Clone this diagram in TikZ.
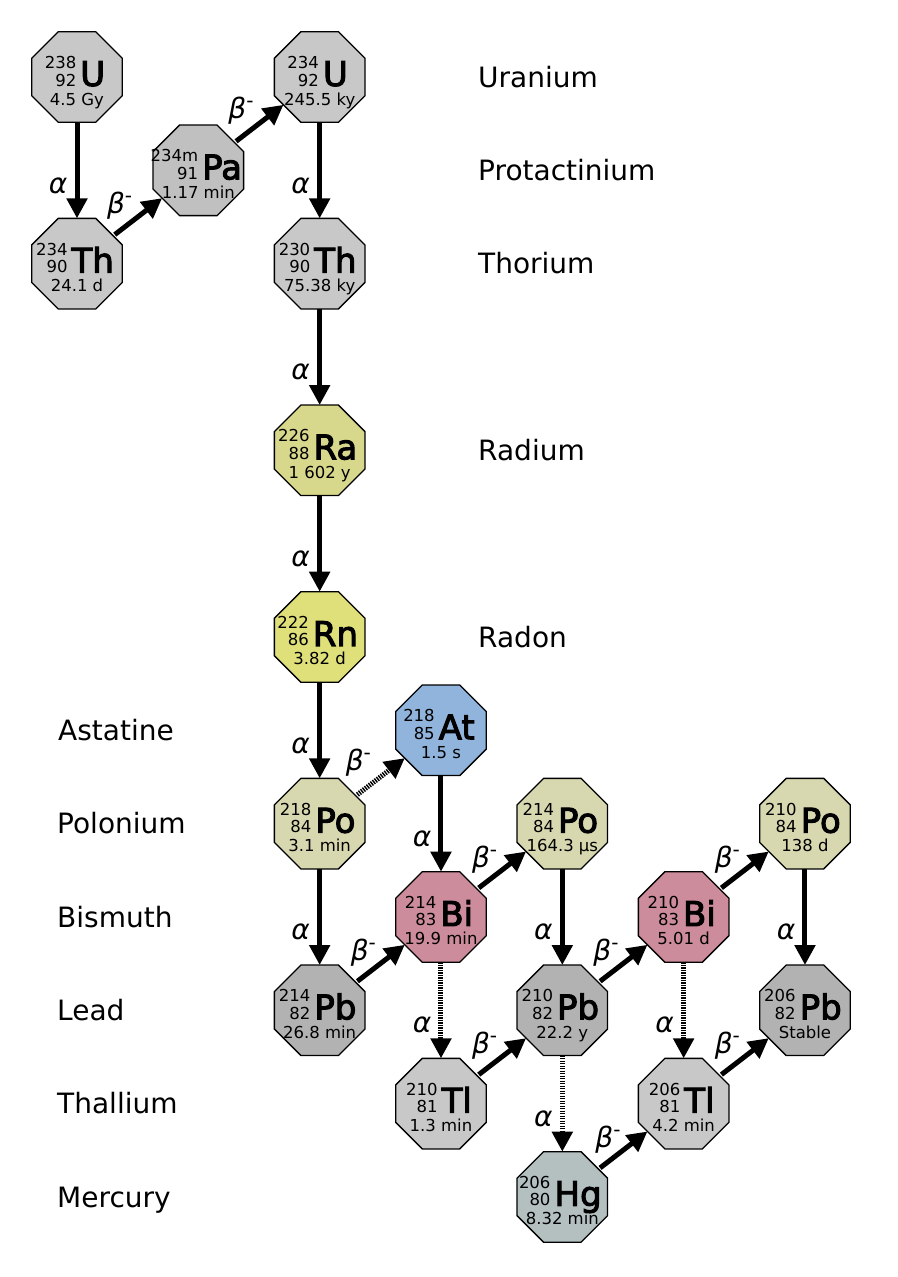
\documentclass[tikz,border=0pt]{standalone}
\usepackage{fontspec}
\setmainfont{DejaVu Sans}
\newfontfamily\symfam{DejaVu Sans}[FakeBold=3]
\usetikzlibrary{shapes.geometric,arrows.meta,calc}

\definecolor{cU}{HTML}{C8C8C8}
\definecolor{cPa}{HTML}{C0C0C0}
\definecolor{cTh}{HTML}{C8C8C8}
\definecolor{cRa}{HTML}{D8D88C}
\definecolor{cRn}{HTML}{E0E07A}
\definecolor{cPo}{HTML}{D8D8B0}
\definecolor{cAt}{HTML}{90B4DC}
\definecolor{cBi}{HTML}{CC8C9C}
\definecolor{cPb}{HTML}{B2B2B2}
\definecolor{cTl}{HTML}{C8C8C8}
\definecolor{cHg}{HTML}{B4C0C0}

\newcommand\numsz{\fontsize{16.5}{17.5}\selectfont}
\newcommand\isotope[8]{%
  \node[oct, fill=#4] (#1) at ({77+121.33*#2},{77+93.33*#3}) {};
  \node[anchor=base, inner sep=0pt] (#1-lab) at ($(#1)+(-2,9)$)
    {\numsz\begin{tabular}[b]{@{}r@{}}#5\\#6\end{tabular}\hspace{4pt}{\symfam\fontsize{34}{34}\selectfont #7}};
  \node[anchor=base, inner sep=0pt] (#1-hl) at ($(#1)+(0,28)$) {\numsz #8};
}
\newcommand\bminus{{\itshape β}\raisebox{11pt}{\fontsize{20}{20}\selectfont -}}
\newcommand\adecay[3][]{%
  \draw[dec,#1] (#2) -- (#3);
  \node[glab] at ($(#2)!0.5!(#3)+(-19,15)$) {\itshape α};
}
\newcommand\bdecay[4][]{%
  \draw[dec,shorten <=2pt,#1] (#2) -- (#3);
  \node[glab] at ($(#2)!0.5!(#3)+#4$) {\bminus};
}

\begin{document}
\begin{tikzpicture}[x=1pt,y=-1pt,
  oct/.style={regular polygon, regular polygon sides=8, minimum size=98pt,
    inner sep=0pt, outer sep=0pt, draw=black, line width=1.3pt},
  dec/.style={line width=5pt, -{Triangle[width=20pt,length=20pt]}},
  dotline/.style={dash pattern=on 1.4pt off 1.1pt},
  glab/.style={inner sep=0pt, font=\fontsize{28}{28}\selectfont},
  elab/.style={anchor=base west, inner sep=0pt, font=\fontsize{28}{28}\selectfont}]
\fill[white] (0,0) rectangle (897,1277);
\useasboundingbox (0,0) rectangle (897,1277);

% element labels
\node[elab] (nU)  at (478, 87) {Uranium};
\node[elab] (nPa) at (478, 180.3) {Protactinium};
\node[elab] (nTh) at (478, 273.7) {Thorium};
\node[elab] (nRa) at (478, 460.3) {Radium};
\node[elab] (nRn) at (478, 647) {Radon};
\node[elab] (nAt) at (58, 740.3) {Astatine};
\node[elab] (nPo) at (57, 833.7) {Polonium};
\node[elab] (nBi) at (57, 927) {Bismuth};
\node[elab] (nPb) at (57, 1020.3) {Lead};
\node[elab] (nTl) at (57, 1113.7) {Thallium};
\node[elab] (nHg) at (57, 1207) {Mercury};

% isotopes
\isotope{U238}{0}{0}{cU}{238}{92}{U}{4.5 Gy}
\isotope{Th234}{0}{2}{cTh}{234}{90}{Th}{24.1 d}
\isotope{Pa234}{1}{1}{cPa}{234m}{91}{Pa}{1.17 min}
\isotope{U234}{2}{0}{cU}{234}{92}{U}{245.5 ky}
\isotope{Th230}{2}{2}{cTh}{230}{90}{Th}{75.38 ky}
\isotope{Ra226}{2}{4}{cRa}{226}{88}{Ra}{1 602 y}
\isotope{Rn222}{2}{6}{cRn}{222}{86}{Rn}{3.82 d}
\isotope{Po218}{2}{8}{cPo}{218}{84}{Po}{3.1 min}
\isotope{At218}{3}{7}{cAt}{218}{85}{At}{1.5 s}
\isotope{Pb214}{2}{10}{cPb}{214}{82}{Pb}{26.8 min}
\isotope{Bi214}{3}{9}{cBi}{214}{83}{Bi}{19.9 min}
\isotope{Po214}{4}{8}{cPo}{214}{84}{Po}{164.3 µs}
\isotope{Tl210}{3}{11}{cTl}{210}{81}{Tl}{1.3 min}
\isotope{Pb210}{4}{10}{cPb}{210}{82}{Pb}{22.2 y}
\isotope{Hg206}{4}{12}{cHg}{206}{80}{Hg}{8.32 min}
\isotope{Bi210}{5}{9}{cBi}{210}{83}{Bi}{5.01 d}
\isotope{Po210}{6}{8}{cPo}{210}{84}{Po}{138 d}
\isotope{Tl206}{5}{11}{cTl}{206}{81}{Tl}{4.2 min}
\isotope{Pb206}{6}{10}{cPb}{206}{82}{Pb}{Stable}

% decays
\adecay{U238}{Th234}
\bdecay{Th234}{Pa234}{(-18,-11)}
\bdecay{Pa234}{U234}{(-18,-13)}
\adecay{U234}{Th230}
\adecay{Th230}{Ra226}
\adecay{Ra226}{Rn222}
\adecay{Rn222}{Po218}
\bdecay[dotline]{Po218}{At218}{(-22,-14)}
\adecay{Po218}{Pb214}
\adecay{At218}{Bi214}
\bdecay{Pb214}{Bi214}{(-17,-11)}
\bdecay{Bi214}{Po214}{(-17,-11)}
\adecay[dotline]{Bi214}{Tl210}
\adecay{Po214}{Pb210}
\bdecay{Tl210}{Pb210}{(-17,-11)}
\bdecay{Pb210}{Bi210}{(-17,-11)}
\adecay[dotline]{Pb210}{Hg206}
\bdecay{Hg206}{Tl206}{(-15,-11)}
\bdecay{Bi210}{Po210}{(-17,-11)}
\adecay[dotline]{Bi210}{Tl206}
\adecay{Po210}{Pb206}
\bdecay{Tl206}{Pb206}{(-17,-11)}
\end{tikzpicture}
\end{document}
